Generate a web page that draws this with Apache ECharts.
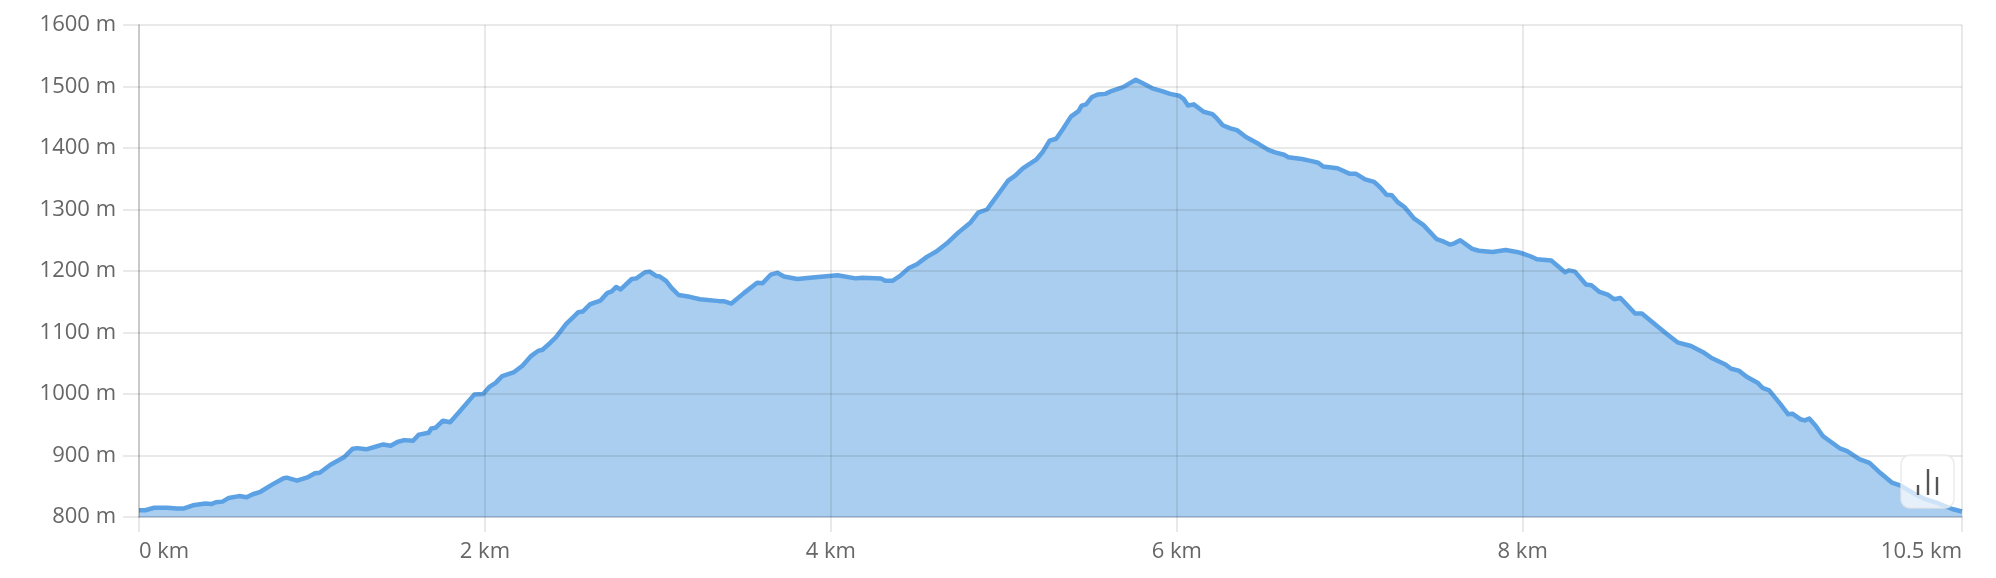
<!DOCTYPE html>
<html>
<head>
<meta charset="utf-8">
<style>html,body{margin:0;padding:0;background:#fff}#c{width:1996px;height:578px}</style>
<script src="https://cdn.jsdelivr.net/npm/echarts@6/dist/echarts.min.js"></script>
</head>
<body>
<div id="c"></div>
<script>
const distanceKm = [0,.036,.088,.165,.217,.26,.312,.385,.418,.444,.483,.519,.578,.622,.658,.702,.772,.836,.854,.914,.978,1.017,1.045,1.107,1.185,1.236,1.262,1.314,1.352,1.412,1.455,1.494,1.533,1.585,1.618,1.675,1.69,1.714,1.757,1.799,1.855,1.938,1.99,2.028,2.062,2.10,2.165,2.217,2.268,2.307,2.333,2.377,2.41,2.47,2.514,2.54,2.565,2.609,2.668,2.707,2.733,2.759,2.785,2.849,2.875,2.926,2.952,2.99,3.011,3.047,3.08,3.12,3.184,3.244,3.355,3.38,3.425,3.497,3.574,3.605,3.652,3.69,3.729,3.806,3.91,4.039,4.142,4.181,4.289,4.315,4.356,4.40,4.452,4.498,4.555,4.612,4.671,4.735,4.808,4.852,4.903,4.929,4.994,5.025,5.066,5.11,5.187,5.226,5.265,5.303,5.342,5.388,5.432,5.45,5.476,5.51,5.543,5.587,5.626,5.69,5.763,5.806,5.858,5.91,5.961,6.013,6.039,6.065,6.098,6.155,6.206,6.232,6.266,6.31,6.348,6.40,6.477,6.529,6.568,6.62,6.645,6.723,6.774,6.818,6.846,6.929,7.001,7.037,7.089,7.141,7.179,7.213,7.244,7.277,7.316,7.373,7.425,7.502,7.541,7.579,7.605,7.639,7.708,7.747,7.825,7.902,7.966,8.005,8.044,8.083,8.165,8.199,8.245,8.268,8.302,8.366,8.397,8.444,8.495,8.529,8.565,8.65,8.689,8.754,8.831,8.895,8.973,9.043,9.089,9.172,9.205,9.249,9.295,9.36,9.386,9.425,9.489,9.535,9.559,9.605,9.631,9.657,9.695,9.734,9.773,9.837,9.876,9.946,10.005,10.07,10.134,10.186,10.263,10.328,10.405,10.483,10.539];
const elevationM = [811,811,815,815,814,814,819,822,821,824,825,831,834,832,837,841,853,863,864,859,865,871,872,885,897,911,912,910,913,918,916,922,925,924,934,937,944,945,956.5,954,972,999,1000,1012,1018,1029,1035,1046,1062,1070,1072,1083,1092,1114,1126,1133,1134,1146,1152,1164,1167,1174,1170,1187,1188,1198,1199,1192,1191,1184,1172,1161,1158,1154,1151,1151,1147,1164,1181,1180,1194,1197,1191,1187,1190,1193,1188,1189,1188,1184,1184,1192,1205,1211,1223,1232,1245,1262,1279,1295,1300,1310,1335,1347,1355,1367,1381,1394,1412,1415,1431,1451,1460,1469,1471,1483,1487,1488,1493,1499,1511,1505,1497,1493,1488,1485,1480,1469,1471,1459,1455,1448,1437,1432,1429,1418,1406,1397,1393,1389,1385,1382,1379,1376,1370,1367,1358,1358,1349,1345,1335,1324,1323,1312,1304,1285,1275,1252,1248,1243,1245,1250,1236,1233,1231,1234,1231,1228,1224,1219,1217,1209,1198,1201,1199,1178,1177,1166,1161,1154,1156,1131,1131,1116,1098,1084,1078,1068,1059,1048,1041,1038,1028,1018,1010,1006,984,967,968,959,957,960,948,932,924,911,907,894,888,871,856,851,838,829,822,813,809];
const xTicks = [0,2,4,6,8,10.54];
const xLabels = ['0 km','2 km','4 km','6 km','8 km','10.5 km'];
const yMin = 800, yMax = 1600, yStep = 100;

const gridColor = 'rgba(70,70,70,0.12)', textColor = '#666666', lineColor = '#5ba1e3';
const font = '"Open Sans", sans-serif';
const chart = echarts.init(document.getElementById('c'), null, {renderer:'canvas'});
chart.setOption({
  animation:false,
  backgroundColor:'#ffffff',
  grid:{left:139,top:25,width:1823,height:492,containLabel:false},
  xAxis:{
    type:'value',min:0,max:xTicks[xTicks.length-1],interval:2,z:5,
    axisLine:{show:true,onZero:false,lineStyle:{color:'rgba(50,80,140,0.18)',width:2}},
    axisTick:{show:true,length:15,customValues:xTicks,lineStyle:{color:gridColor,width:2}},
    splitLine:{show:true,showMinLine:true,showMaxLine:true,lineStyle:{color:gridColor,width:2}},
    axisLabel:{customValues:xTicks,margin:24,fontSize:22,fontFamily:font,color:textColor,
      alignMinLabel:'left',alignMaxLabel:'right',showMinLabel:true,showMaxLabel:true,
      formatter:v=>xLabels[xTicks.indexOf(v)]}
  },
  yAxis:{
    type:'value',min:yMin,max:yMax,interval:yStep,z:5,
    axisLine:{show:true,lineStyle:{color:'rgba(40,40,40,0.16)',width:2}},
    axisTick:{show:true,length:16,lineStyle:{color:gridColor,width:2}},
    splitLine:{show:true,lineStyle:{color:gridColor,width:2}},
    axisLabel:{margin:23,fontSize:22,fontFamily:font,color:textColor,formatter:v=>v+' m'}
  },
  series:[{
    type:'line',
    data:distanceKm.map((d,i)=>[d,elevationM[i]]),
    showSymbol:false,symbol:'none',smooth:false,clip:true,
    lineStyle:{color:lineColor,width:4.5,join:'round'},
    areaStyle:{color:lineColor,opacity:0.52,origin:'start'}
  }],
  graphic:[
    {type:'rect',z:100,shape:{x:1901,y:455,width:53,height:53,r:9},
      style:{fill:'rgba(255,255,255,0.7)',stroke:'rgba(230,230,230,0.8)',lineWidth:1.5}},
    {type:'line',z:101,shape:{x1:1918,y1:485,x2:1918,y2:495},style:{stroke:'#555',lineWidth:2.4}},
    {type:'line',z:101,shape:{x1:1928,y1:469,x2:1928,y2:495},style:{stroke:'#555',lineWidth:2.4}},
    {type:'line',z:101,shape:{x1:1937,y1:477,x2:1937,y2:495},style:{stroke:'#555',lineWidth:2.4}}
  ]
});
</script>
</body>
</html>
